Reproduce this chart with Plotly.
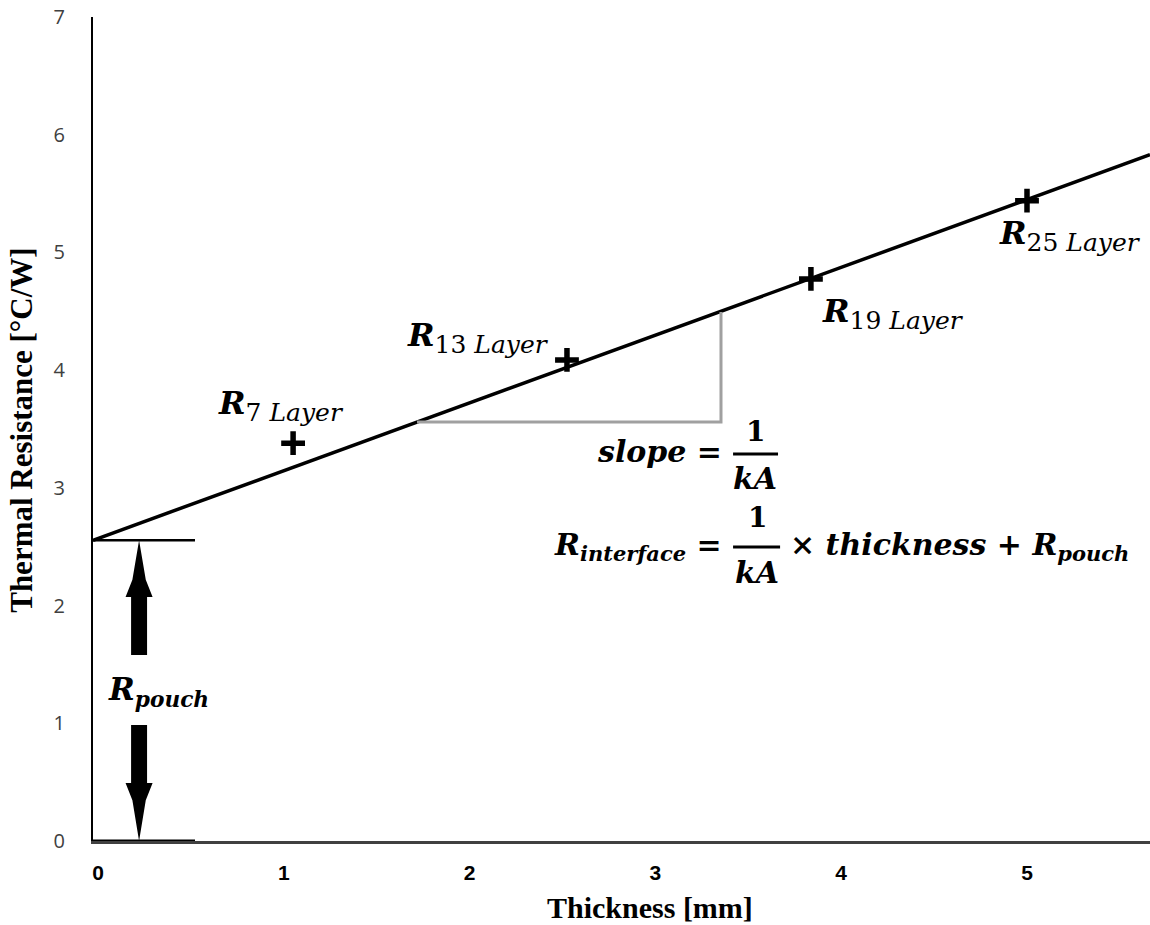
import plotly.graph_objects as go

# ---------------- data ----------------
layer_names = ["7", "13", "19", "25"]
thickness_mm = [1.05, 2.524, 3.837, 5.0]
resistance = [3.38, 4.087, 4.775, 5.44]

trend_x = [-0.027, 5.662]
trend_y = [2.555, 5.83]

r_pouch = 2.555
x_ticks = [0, 1, 2, 3, 4, 5]
y_ticks = [0, 1, 2, 3, 4, 5, 6, 7]

# slope triangle corners
tri_x = [1.717, 3.353, 3.353]
tri_y = [3.56, 3.56, 4.494]

X_MIN, X_MAX = -0.027, 5.662
Y_MIN, Y_MAX = 0, 7

MATH = "DejaVu Serif"
SERIF = "Liberation Serif"

fig = go.Figure()

# trend line
fig.add_trace(go.Scatter(x=trend_x, y=trend_y, mode="lines",
                         line=dict(color="black", width=3.5), hoverinfo="skip"))
# slope triangle
fig.add_trace(go.Scatter(x=tri_x, y=tri_y, mode="lines",
                         line=dict(color="#a0a0a0", width=3), hoverinfo="skip"))
# measured points
fig.add_trace(go.Scatter(x=thickness_mm, y=resistance, mode="markers",
                         marker=dict(symbol="cross-thin", size=17,
                                     line=dict(color="black", width=5.5)),
                         hoverinfo="skip"))

shapes = []
seg_end = 0.522
# R_pouch guide lines
shapes.append(dict(type="line", xref="x", yref="y", x0=X_MIN, x1=seg_end,
                   y0=r_pouch, y1=r_pouch, line=dict(color="black", width=2.5)))
shapes.append(dict(type="line", xref="x", yref="y", x0=X_MIN, x1=seg_end,
                   y0=0, y1=0, line=dict(color="black", width=3)))

# double arrow (two block arrows)
ax = 0.221
shaft_hw, notch_hw, head_hw = 0.043, 0.036, 0.0727
up_tip, up_notch, up_base, up_tail = r_pouch, 2.22, 2.073, 1.58
dn_tail, dn_base, dn_notch, dn_tip = 0.986, 0.493, 0.346, 0.0


def arrow_path(tip, notch, base, tail):
    pts = [(ax, tip), (ax + notch_hw, notch), (ax + head_hw, base),
           (ax + shaft_hw, base), (ax + shaft_hw, tail), (ax - shaft_hw, tail),
           (ax - shaft_hw, base), (ax - head_hw, base), (ax - notch_hw, notch)]
    return "M " + " L ".join(f"{px},{py}" for px, py in pts) + " Z"


shapes.append(dict(type="path", xref="x", yref="y",
                   path=arrow_path(up_tip, up_notch, up_base, up_tail),
                   fillcolor="black", line=dict(color="black", width=0)))
shapes.append(dict(type="path", xref="x", yref="y",
                   path=arrow_path(dn_tip, dn_notch, dn_base, dn_tail),
                   fillcolor="black", line=dict(color="black", width=0)))

# fraction bars
frac1_x, frac1_y = (3.418, 3.66), 3.288
frac2_x, frac2_y = (3.418, 3.671), 2.498
for fx, fy in [(frac1_x, frac1_y), (frac2_x, frac2_y)]:
    shapes.append(dict(type="line", xref="x", yref="y", x0=fx[0], x1=fx[1],
                       y0=fy, y1=fy, line=dict(color="black", width=3)))

annotations = []


def txt(x, y, text, size=30, xanchor="center", family=MATH, xref="x", yref="y",
        yanchor="middle", angle=0, color="black"):
    annotations.append(dict(x=x, y=y, xref=xref, yref=yref, text=text,
                            showarrow=False, xanchor=xanchor, yanchor=yanchor,
                            textangle=angle,
                            font=dict(family=family, size=size, color=color)))


# layer labels
label_pos = [(0.985, 3.70), (2.045, 4.28), (4.279, 4.48), (5.231, 5.14)]
for name, (lx, ly) in zip(layer_names, label_pos):
    txt(lx, ly,
        f"<b><i>R</i></b><sub><span style='font-size:25px'>{name} <i>Layer</i></span></sub>",
        size=32)

# R_pouch
txt(0.323, 1.266, "<b><i>R<sub>pouch</sub></i></b>", size=31)

# slope = 1/kA
txt(3.369, 3.305, "<b><i>slope</i> =</b>", size=30, xanchor="right")
txt(3.536, 3.483, "<b>1</b>", size=28)
txt(3.536, 3.076, "<b><i>kA</i></b>", size=30)

# R_interface = 1/kA x thickness + R_pouch
txt(3.369, 2.506, "<b><i>R<sub>interface</sub></i> =</b>", size=30, xanchor="right")
txt(3.547, 2.744, "<b>1</b>", size=28)
txt(3.547, 2.285, "<b><i>kA</i></b>", size=30)
txt(3.714, 2.506, "<b>× <i>thickness</i> + <i>R<sub>pouch</sub></i></b>",
    size=30, xanchor="left")

# axis titles
txt(-0.0672, 0.499, "<b>Thermal Resistance [°C/W]</b>", size=31, family=SERIF,
    xref="paper", yref="paper", angle=-90)
txt(0.527, -0.0813, "<b>Thickness [mm]</b>", size=30, family=SERIF,
    xref="paper", yref="paper")

fig.update_layout(
    width=1150, height=925,
    margin=dict(l=93, r=0, t=17, b=84),
    plot_bgcolor="white", paper_bgcolor="white",
    showlegend=False,
    shapes=shapes, annotations=annotations,
    xaxis=dict(range=[X_MIN, X_MAX], tickvals=x_ticks, showgrid=False,
               zeroline=False, showline=True, linecolor="#404040", linewidth=3,
               ticks="", ticklabelstandoff=11,
               tickfont=dict(family="Liberation Sans Narrow, Liberation Sans",
                             size=21, color="black", weight="bold")),
    yaxis=dict(range=[Y_MIN, Y_MAX], tickvals=y_ticks, showgrid=False,
               zeroline=False, showline=True, linecolor="black", linewidth=2,
               ticks="", ticklabelstandoff=22,
               tickfont=dict(family="Open Sans", size=20, color="#404040")),
)

fig.write_html("out.html")
